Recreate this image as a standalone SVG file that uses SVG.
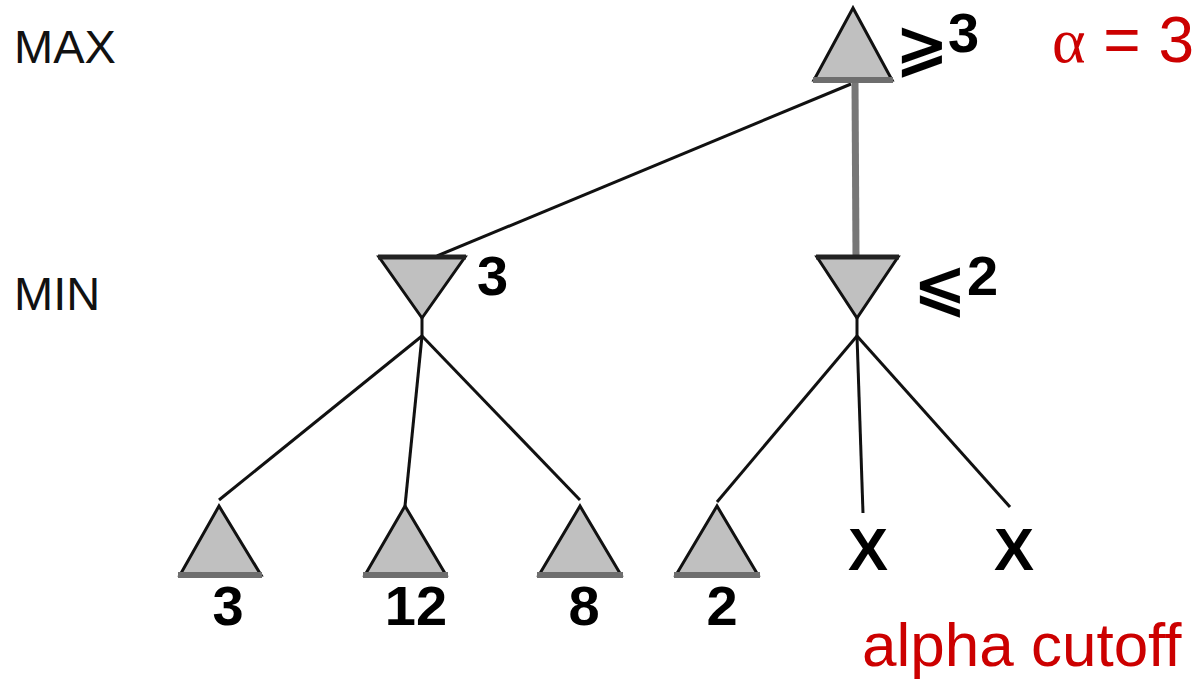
<svg xmlns="http://www.w3.org/2000/svg" width="1203" height="683" viewBox="0 0 1203 683">
<style>
.tri{fill:#c0c0c0;stroke:#111;stroke-width:3;stroke-linejoin:miter}
.base{stroke:#6e6e6e;stroke-width:6;stroke-linecap:butt}
.topb{stroke:#222;stroke-width:5}
.edge{stroke:#111;stroke-width:3;fill:none}
.lbl{font-family:"Liberation Sans",Arial,sans-serif;font-weight:bold;fill:#000}
.sym{font-family:"DejaVu Sans",sans-serif;font-weight:bold}
.side{font-family:"Liberation Sans",Arial,sans-serif;fill:#111;font-size:47px}
.red{font-family:"Liberation Sans",Arial,sans-serif;fill:#cc0000}
</style>
<rect width="1203" height="683" fill="#fff"/>
<text class="side" x="14" y="63">MAX</text>
<text class="side" x="14" y="310">MIN</text>
<g id="connectors">
<line x1="851" y1="84" x2="437" y2="256" class="edge"/>
<line x1="855" y1="82" x2="856" y2="256" stroke="#777" stroke-width="7"/>
<line x1="422" y1="316" x2="422" y2="336" class="edge" stroke-width="5"/>
<line x1="857" y1="316" x2="857" y2="336" class="edge" stroke-width="5"/>
<line x1="422" y1="336" x2="219" y2="500" class="edge"/>
<line x1="422" y1="336" x2="405" y2="506" class="edge"/>
<line x1="422" y1="336" x2="580" y2="500" class="edge"/>
<line x1="857" y1="336" x2="717" y2="502" class="edge"/>
<line x1="857" y1="336" x2="863" y2="513" class="edge"/>
<line x1="857" y1="336" x2="1010" y2="507" class="edge"/>
</g>
<g id="max-root">
<polygon class="tri" points="853,8 814,80 892,80"/>
<line class="base" x1="813" y1="80" x2="893" y2="80"/>
<text class="lbl" font-size="56"><tspan class="sym" x="895" y="68" font-size="64">⩾</tspan><tspan x="948" y="52">3</tspan></text>
</g>
<g id="min-left">
<polygon class="tri" points="379,257 465,257 422,318"/>
<line class="topb" x1="378" y1="257" x2="466" y2="257"/>
<text class="lbl" x="477" y="295" font-size="56">3</text>
</g>
<g id="min-right">
<polygon class="tri" points="817,257 898,257 857,318"/>
<line class="topb" x1="816" y1="257" x2="899" y2="257"/>
<text class="lbl" font-size="56"><tspan class="sym" x="913" y="308" font-size="64">⩽</tspan><tspan x="967" y="295">2</tspan></text>
</g>
<g id="leaf1">
<polygon class="tri" points="219,506 180,575 261,575"/>
<line class="base" x1="178" y1="575" x2="262" y2="575"/>
<text class="lbl" x="228" y="625" font-size="56" text-anchor="middle">3</text>
</g>
<g id="leaf2">
<polygon class="tri" points="405,506 365,575 446,575"/>
<line class="base" x1="363" y1="575" x2="448" y2="575"/>
<text class="lbl" x="416" y="625" font-size="56" text-anchor="middle">12</text>
</g>
<g id="leaf3">
<polygon class="tri" points="580,506 539,575 621,575"/>
<line class="base" x1="537" y1="575" x2="623" y2="575"/>
<text class="lbl" x="584" y="625" font-size="56" text-anchor="middle">8</text>
</g>
<g id="leaf4">
<polygon class="tri" points="717,506 676,575 758,575"/>
<line class="base" x1="674" y1="575" x2="760" y2="575"/>
<text class="lbl" x="722" y="625" font-size="56" text-anchor="middle">2</text>
</g>
<g id="cut1"><text class="lbl" x="868" y="570" font-size="60" text-anchor="middle">X</text></g>
<g id="cut2"><text class="lbl" x="1014" y="570" font-size="60" text-anchor="middle">X</text></g>
<text class="red" x="1052" y="62" font-size="64"><tspan font-family="'Liberation Serif',serif">α</tspan> = 3</text>
<text class="red" x="862" y="666" font-size="62">alpha cutoff</text>
</svg>
